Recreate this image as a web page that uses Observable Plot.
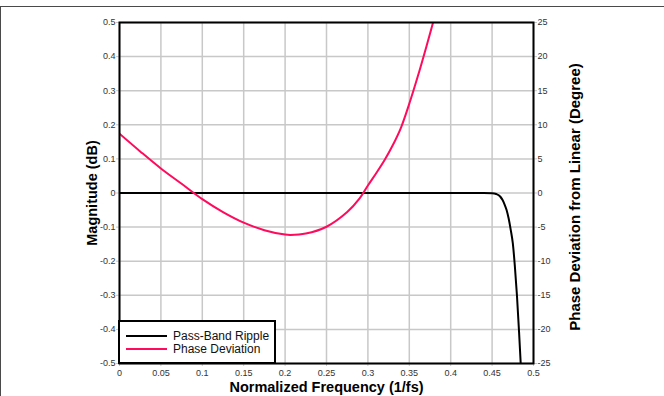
<!DOCTYPE html>
<html>
<head>
<meta charset="utf-8">
<script src="https://cdn.jsdelivr.net/npm/d3@7"></script>
<script src="https://cdn.jsdelivr.net/npm/@observablehq/plot@0.6"></script>
<style>
  body { margin: 0; background: #fff; font-family: "Liberation Sans", Arial, sans-serif; }
  #wrap { position: relative; width: 664px; height: 396px; overflow: hidden; }
  #wrap svg { position: absolute; left: 0; top: 0; }
  #border { position: absolute; left: 0; top: 6px; width: 700px; height: 400px;
            border-top: 1px solid #4a4a4a; border-left: 1px solid #4a4a4a; }
  #legend { position: absolute; left: 118px; top: 320px; width: 158px; height: 44px;
            box-sizing: border-box; border: 2px solid #000; background: #fff;
            font-family: "Liberation Sans", Arial, sans-serif; font-size: 12px; color: #111; }
  .row { position: absolute; left: 0; height: 14px; line-height: 14px; white-space: nowrap; }
  .swatch { position: absolute; left: 6px; width: 41px; height: 0; border-top: 2px solid; }
  .lbl { position: absolute; left: 53px; top: 0; }
</style>
</head>
<body>
<div id="wrap"></div>
<script>
// ---- data ----
const freqTicks = [0, 0.05, 0.1, 0.15, 0.2, 0.25, 0.3, 0.35, 0.4, 0.45, 0.5];
const magTicks = [-0.5, -0.4, -0.3, -0.2, -0.1, 0, 0.1, 0.2, 0.3, 0.4, 0.5];
const phaseTicks = [-25, -20, -15, -10, -5, 0, 5, 10, 15, 20, 25];

// Pass-band ripple (dB)
const magFreq = [0, 0.1, 0.2, 0.3, 0.4, 0.44, 0.45, 0.455, 0.46, 0.4625, 0.465, 0.4675, 0.47, 0.4725, 0.475, 0.4775, 0.48, 0.4825, 0.485, 0.4875];
const magDb   = [0, 0,   0,   0,   0,   0,   -0.0005, -0.003, -0.011, -0.02, -0.033, -0.05, -0.075, -0.108, -0.147, -0.215, -0.30, -0.405, -0.52, -0.65];

// Phase deviation from linear (degrees)
const phaseFreq = [0, 0.025, 0.05, 0.075, 0.1, 0.125, 0.15, 0.175, 0.2, 0.2065, 0.225, 0.25, 0.275, 0.29, 0.3, 0.31, 0.32, 0.33, 0.34, 0.35, 0.36, 0.37, 0.38, 0.39];
const phaseDeg  = [8.7, 6.1, 3.6, 1.35, -0.9, -2.8, -4.35, -5.45, -6.1, -6.15, -5.95, -4.95, -2.8, -0.8, 1.1, 2.9, 4.8, 7.0, 9.6, 13.1, 17.0, 21.2, 25.6, 30.5];

const magData = magFreq.map((f, i) => ({f, v: magDb[i]}));
const phaseData = phaseFreq.map((f, i) => ({f, v: phaseDeg[i] / 50})); // map degrees onto dB axis (-25..25 -> -0.5..0.5)

const pink = "#ff0a5c";
const fmt = d => { const r = Math.round(d * 1000) / 1000; return r < 0 ? "-" + String(-r) : String(r); };

const chart = Plot.plot({
  width: 664,
  height: 396,
  marginLeft: 119,
  marginRight: 131,
  marginTop: 22,
  marginBottom: 33,
  style: { fontFamily: "'Liberation Sans', Arial, sans-serif", background: "transparent" },
  x: { domain: [0, 0.5] },
  y: { domain: [-0.5, 0.5] },
  marks: [
    Plot.gridX(freqTicks, { stroke: "#c8c8c8", strokeOpacity: 1, strokeWidth: 1.5 }),
    Plot.gridY(magTicks, { stroke: "#c8c8c8", strokeOpacity: 1, strokeWidth: 1.5 }),
    Plot.axisX(freqTicks, { tickSize: 3, stroke: "#c8c8c8", fill: "#333", fontSize: 9, tickPadding: 3, tickFormat: fmt, label: null }),
    Plot.axisY(magTicks, { anchor: "left", tickSize: 3, stroke: "#c8c8c8", fill: "#333", fontSize: 9, tickPadding: 1, tickFormat: fmt, label: null }),
    Plot.axisY(phaseTicks.map(d => d / 50), { anchor: "right", tickSize: 3, stroke: "#c8c8c8", fill: "#333", fontSize: 9, tickPadding: 1, tickFormat: d => fmt(d * 50), label: null }),
    Plot.line(magData, { x: "f", y: "v", stroke: "#000", strokeWidth: 2, curve: "monotone-x", clip: true }),
    Plot.line(phaseData, { x: "f", y: "v", stroke: pink, strokeWidth: 2, curve: "catmull-rom", clip: true }),
    Plot.frame({ stroke: "#000", strokeWidth: 2 }),
    Plot.text(["Normalized Frequency (1/fs)"], { frameAnchor: "bottom", dy: 24, fontSize: 14.5, fontWeight: "bold", fill: "#000", textAnchor: "middle", lineAnchor: "middle" }),
    Plot.text(["Magnitude (dB)"], { frameAnchor: "left", dx: -27, rotate: -90, fontSize: 14.5, fontWeight: "bold", fill: "#000", textAnchor: "middle", lineAnchor: "middle" }),
    Plot.text(["Phase Deviation from Linear (Degree)"], { frameAnchor: "right", dx: 42, dy: 4, rotate: -90, fontSize: 15, fontWeight: "bold", fill: "#000", textAnchor: "middle", lineAnchor: "middle" })
  ]
});

const wrap = document.getElementById("wrap");
wrap.appendChild(chart);

const border = document.createElement("div");
border.id = "border";
wrap.appendChild(border);

// legend
const legendItems = ["Pass-Band Ripple", "Phase Deviation"];
const legendColors = ["#000", pink];
const legend = document.createElement("div");
legend.id = "legend";
legendItems.forEach((name, i) => {
  const row = document.createElement("div");
  row.className = "row";
  row.style.top = (7 + i * 13) + "px";
  const sw = document.createElement("span");
  sw.className = "swatch";
  sw.style.borderTopColor = legendColors[i];
  sw.style.top = "6px";
  const lb = document.createElement("span");
  lb.className = "lbl";
  lb.textContent = name;
  row.appendChild(sw);
  row.appendChild(lb);
  legend.appendChild(row);
});
wrap.appendChild(legend);
</script>
</body>
</html>
